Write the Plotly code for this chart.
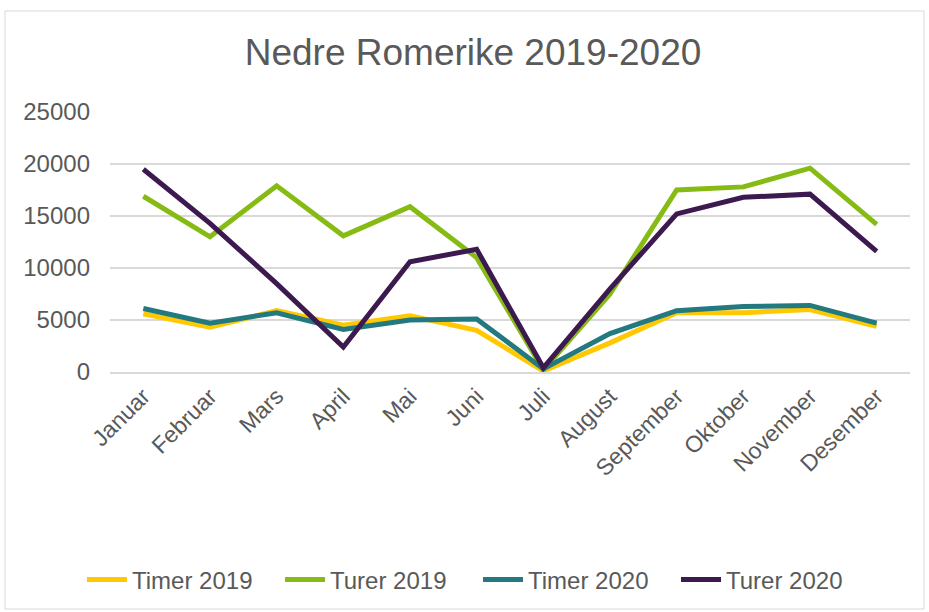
import plotly.graph_objects as go

months = ["Januar", "Februar", "Mars", "April", "Mai", "Juni", "Juli",
          "August", "September", "Oktober", "November", "Desember"]
timer_2019 = [5600, 4300, 5900, 4500, 5400, 4000, 100, 2800, 5700, 5700, 6000, 4400]
turer_2019 = [16900, 13000, 17900, 13100, 15900, 11000, 200, 7500, 17500, 17800, 19600, 14200]
timer_2020 = [6100, 4700, 5700, 4100, 5000, 5100, 300, 3700, 5900, 6300, 6400, 4700]
turer_2020 = [19500, 14300, 8500, 2400, 10600, 11800, 400, 8000, 15200, 16800, 17100, 11600]
y_ticks = [0, 5000, 10000, 15000, 20000, 25000]

series = [
    ("Timer 2019", timer_2019, "#FFC800"),
    ("Turer 2019", turer_2019, "#86BB14"),
    ("Timer 2020", timer_2020, "#22797F"),
    ("Turer 2020", turer_2020, "#3C1A50"),
]

fig = go.Figure()
for name, vals, col in series:
    fig.add_trace(go.Scatter(x=months, y=vals, name=name, mode="lines",
                             line=dict(color=col, width=5)))

W, H = 929, 612
L, R, T, B = 110, 19, 112, 240
pw, ph = W - L - R, H - T - B

fig.update_layout(
    width=W, height=H,
    margin=dict(l=L, r=R, t=T, b=B, autoexpand=False),
    paper_bgcolor="white", plot_bgcolor="white",
    font=dict(family="Liberation Sans, Arial, sans-serif", color="#595959", size=24),
    title=dict(text="Nedre Romerike 2019-2020", x=473 / W, xref="container", xanchor="center",
               y=1 - 52 / H, yref="container", yanchor="middle",
               font=dict(size=37, color="#595959")),
    showlegend=True,
    legend=dict(orientation="h", xref="container", x=478 / W, xanchor="center",
                yref="container", y=1 - 580 / H, yanchor="middle",
                font=dict(size=24, color="#595959"), itemwidth=40,
                entrywidth=143, entrywidthmode="pixels",
                tracegroupgap=0),
    xaxis=dict(type="category", showgrid=False, ticks="", tickangle=-45,
               showline=True, linecolor="#d9d9d9", linewidth=1.5,
               range=[-0.5, 11.5], tickfont=dict(size=23)),
    yaxis=dict(range=[0, 25000], tickvals=y_ticks, ticktext=[str(v) for v in y_ticks],
               showgrid=True, gridcolor="#d9d9d9", gridwidth=1.5, zeroline=False,
               showline=False, ticks="", ticklabelstandoff=19, tickfont=dict(size=24)),
    shapes=[dict(type="rect", xref="paper", yref="paper",
                 x0=(5 - L) / pw, x1=(924 - L) / pw,
                 y0=(H - B - 609) / ph, y1=(H - B - 11) / ph,
                 line=dict(color="#d9d9d9", width=1), fillcolor="rgba(0,0,0,0)", layer="below")],
)

fig.write_html("out.html", config={"displayModeBar": False},
               post_script="document.body.style.margin='0';")
